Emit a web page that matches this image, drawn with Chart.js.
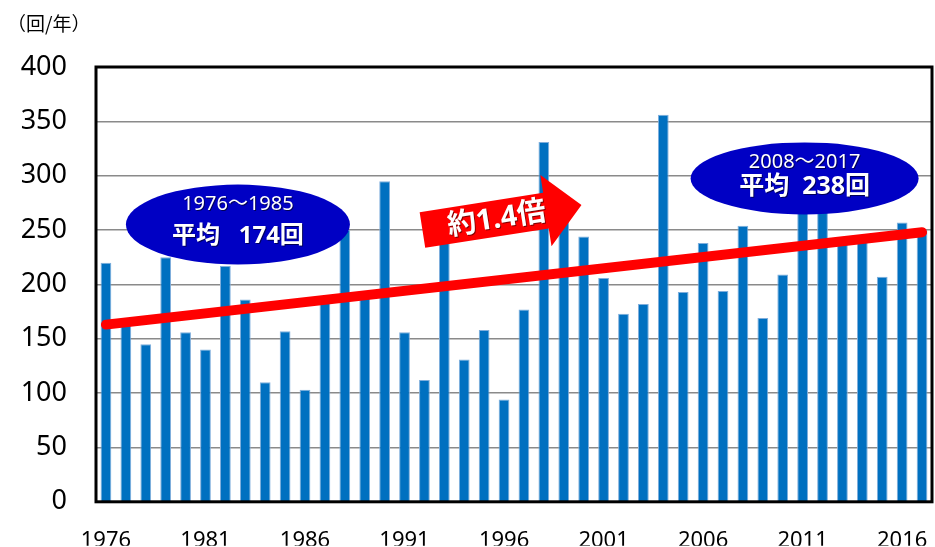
<!DOCTYPE html>
<html lang="ja">
<head>
<meta charset="utf-8">
<script src="https://cdn.jsdelivr.net/npm/chart.js@4.4.1/dist/chart.umd.min.js"></script>
<style>
  html, body { margin: 0; padding: 0; background: #fff; }
</style>
</head>
<body>
<canvas id="chart" width="935" height="547"></canvas>
<script>
// ── Data ───────────────────────────────────────────────────────────
const years = [
  1976, 1977, 1978, 1979, 1980, 1981, 1982, 1983, 1984, 1985,
  1986, 1987, 1988, 1989, 1990, 1991, 1992, 1993, 1994, 1995,
  1996, 1997, 1998, 1999, 2000, 2001, 2002, 2003, 2004, 2005,
  2006, 2007, 2008, 2009, 2010, 2011, 2012, 2013, 2014, 2015,
  2016, 2017,
];
const counts = [
  220, 168, 145, 225, 156, 140, 217, 186, 110, 157,
  103, 185, 250, 188, 295, 156, 112, 245, 131, 158,
  94, 177, 331, 262, 244, 206, 173, 182, 356, 193,
  238, 194, 254, 169, 209, 272, 275, 242, 242, 207,
  257, 250,
];
const trendStart = 163;
const trendEnd = 248;
const yTicks = [0, 50, 100, 150, 200, 250, 300, 350, 400];
const labelStep = 5;

const unitLabel = '（回/年）';
const earlyRange = '1976～1985';
const earlyAvg = '平均   174回';
const lateRange = '2008～2017';
const lateAvg = '平均  238回';
const ratioLabel = '約1.4倍';

// trend line only has its two ends, the gap is spanned
const trend = counts.map((_, i) => i === 0 ? trendStart : (i === counts.length - 1 ? trendEnd : null));

const FONT = "'Noto Sans', 'Noto Sans CJK JP', sans-serif";
const CJK = "'Noto Sans CJK JP', sans-serif";

// ── Overlays: frame, unit label, bubbles, arrow ───────────────────
function drawBubble(ctx, cx, cy, rx, ry, line1, line2, y1, y2, size2) {
  ctx.save();
  ctx.beginPath();
  ctx.ellipse(cx, cy, rx, ry, 0, 0, Math.PI * 2);
  ctx.fillStyle = '#0000C4';
  ctx.fill();
  ctx.fillStyle = '#fff';
  ctx.textAlign = 'center';
  ctx.textBaseline = 'middle';
  ctx.shadowColor = 'rgba(0,0,0,0.55)';
  ctx.shadowOffsetX = 1;
  ctx.shadowOffsetY = 1;
  ctx.font = `20px ${FONT}`;
  ctx.fillText(line1, cx, cy + y1);
  ctx.font = `bold ${size2}px ${FONT}`;
  ctx.fillText(line2, cx, cy + y2);
  ctx.restore();
}

function drawArrow(ctx, ox, oy, ang) {
  ctx.save();
  ctx.translate(ox, oy);
  ctx.rotate(ang);
  ctx.beginPath();
  ctx.moveTo(0, -18);
  ctx.lineTo(125, -18);
  ctx.lineTo(125, -36);
  ctx.lineTo(161, 0);
  ctx.lineTo(125, 36);
  ctx.lineTo(125, 18);
  ctx.lineTo(0, 18);
  ctx.closePath();
  ctx.fillStyle = '#FF0000';
  ctx.fill();
  ctx.fillStyle = '#fff';
  ctx.textAlign = 'center';
  ctx.textBaseline = 'middle';
  ctx.shadowColor = 'rgba(0,0,0,0.5)';
  ctx.shadowOffsetX = 1;
  ctx.shadowOffsetY = 1;
  ctx.font = `bold 29px ${FONT}`;
  ctx.fillText(ratioLabel, 75, 1);
  ctx.restore();
}

const overlays = {
  id: 'overlays',
  afterDatasetsDraw(chart) {
    const { ctx, chartArea: a, scales: { x, y } } = chart;
    // plot frame
    ctx.save();
    ctx.strokeStyle = '#000';
    ctx.lineWidth = 3;
    ctx.strokeRect(a.left, a.top, a.right - a.left, a.bottom - a.top);
    ctx.restore();

    // unit label
    ctx.save();
    ctx.fillStyle = '#000';
    ctx.font = `19px ${CJK}`;
    ctx.textBaseline = 'middle';
    ctx.fillText(unitLabel, 7, 24);
    ctx.restore();

    drawBubble(ctx, x.getPixelForValue(6.63), y.getPixelForValue(255), 112, 40,
      earlyRange, earlyAvg, -20, 12, 24);
    drawBubble(ctx, x.getPixelForValue(35.1), y.getPixelForValue(297.5), 114, 36,
      lateRange, lateAvg, -16, 8, 25);
    drawArrow(ctx, x.getPixelForValue(15.9), y.getPixelForValue(250), Math.atan2(-25, 159));
  },
};

// ── Chart ─────────────────────────────────────────────────────────
new Chart(document.getElementById('chart'), {
  data: {
    labels: years,
    datasets: [
      {
        type: 'line', data: trend, order: 0, spanGaps: true,
        borderColor: '#FF0000', borderWidth: 10, borderCapStyle: 'round',
        pointRadius: 0, fill: false,
      },
      {
        type: 'bar', data: counts, order: 1,
        backgroundColor: '#0070C0', borderColor: '#7FAEDC', borderWidth: 1,
        categoryPercentage: 1, barPercentage: 0.54,
      },
    ],
  },
  options: {
    responsive: false, animation: false, devicePixelRatio: 1,
    layout: { autoPadding: false, padding: { left: 0, top: 67, right: 3, bottom: 0 } },
    plugins: { legend: { display: false }, tooltip: { enabled: false }, title: { display: false } },
    scales: {
      x: {
        grid: { display: false, drawTicks: false },
        border: { display: false },
        ticks: {
          autoSkip: false, maxRotation: 0, minRotation: 0, padding: 26,
          color: '#000', font: { family: FONT, size: 22 },
          callback: (v, i) => ((years[i] - years[0]) % labelStep === 0 ? String(years[i]) : ''),
        },
        afterFit: s => { s.height = 44; s.paddingRight = 0; s.paddingLeft = 0; },
      },
      y: {
        min: yTicks[0], max: yTicks[yTicks.length - 1],
        grid: { color: '#8a8a8a', lineWidth: 1.5, drawTicks: false },
        border: { display: false },
        afterBuildTicks: s => { s.ticks = yTicks.map(v => ({ value: v })); },
        ticks: { padding: 29, color: '#000', font: { family: FONT, size: 27 } },
        afterFit: s => { s.width = 96; },
      },
    },
  },
  plugins: [overlays],
});
</script>
</body>
</html>
